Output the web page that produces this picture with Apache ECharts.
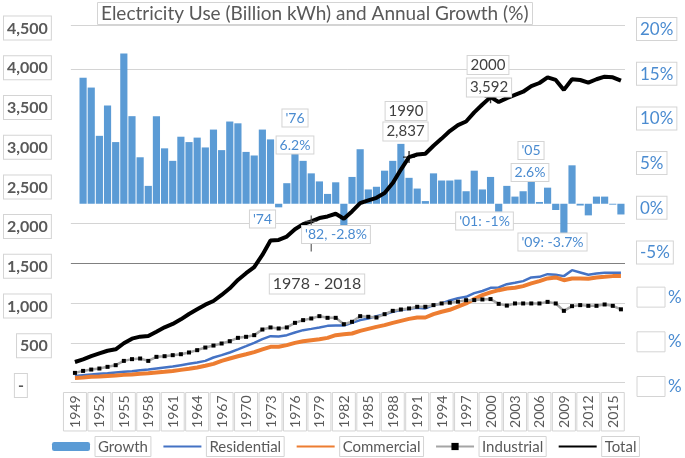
<!DOCTYPE html>
<html>
<head>
<meta charset="utf-8">
<script src="https://cdn.jsdelivr.net/npm/echarts@6/dist/echarts.min.js"></script>
<style>
html,body{margin:0;padding:0;background:#fff;}
#chart{width:685px;height:458px;}
</style>
</head>
<body>
<div id="chart"></div>
<script>
const years = ['1949','1950','1951','1952','1953','1954','1955','1956','1957','1958',
 '1959','1960','1961','1962','1963','1964','1965','1966','1967','1968',
 '1969','1970','1971','1972','1973','1974','1975','1976','1977','1978',
 '1979','1980','1981','1982','1983','1984','1985','1986','1987','1988',
 '1989','1990','1991','1992','1993','1994','1995','1996','1997','1998',
 '1999','2000','2001','2002','2003','2004','2005','2006','2007','2008',
 '2009','2010','2011','2012','2013','2014','2015','2016'];

// Annual growth of total use (%), right axis
const growth = [null,14.1,13.0,7.6,11.0,6.9,16.8,9.8,5.2,2.0,
 9.8,6.2,4.8,7.5,6.9,7.4,6.3,8.3,6.0,9.2,
 9.0,5.8,5.4,8.3,7.2,-0.4,2.3,6.0,4.8,3.4,
 2.5,1.1,2.4,-2.9,3.0,6.1,1.6,1.9,3.7,4.8,
 6.7,2.9,1.7,0.3,3.4,2.6,2.6,2.7,1.4,3.7,
 1.6,3.0,-0.9,2.0,0.8,1.4,2.5,0.2,1.8,-0.7,
 -3.7,4.3,-0.2,-1.3,0.8,0.8,-0.1,-1.2];

// Billion kWh, left axis
const residential = [83,92,101,109,117,126,134,142,155,163,
 176,189,201,218,235,251,272,315,344,378,
 416,457,499,545,583,580,596,630,659,675,
 692,713,718,718,751,785,806,835,860,890,
 911,928,940,932,974,995,1033,1062,1078,1125,
 1152,1192,1196,1238,1255,1276,1322,1330,1364,1356,
 1339,1414,1385,1356,1373,1381,1381,1380];

const commercial = [58,63,71,76,83,88,96,101,109,117,
 126,134,146,159,172,189,210,235,272,302,
 331,356,382,416,449,449,470,499,520,533,
 545,562,596,608,617,650,675,700,722,751,
 776,801,818,818,860,890,915,955,995,1050,
 1100,1135,1162,1184,1192,1213,1247,1276,1310,1322,
 1288,1310,1310,1305,1322,1330,1339,1339];

const industrial = [121,146,163,176,197,218,272,294,302,272,
 323,331,344,356,378,407,440,465,491,520,
 562,575,596,667,693,680,693,751,785,806,
 835,814,814,734,764,835,827,818,860,902,
 919,932,953,953,974,995,1005,1018,1036,1037,
 1045,1050,990,968,995,995,995,995,1015,995,
 902,961,974,965,965,982,965,921];

const total = [258,292,333,367,400,418,494,552,577,586,
 640,695,737,795,862,921,980,1026,1102,1186,
 1291,1376,1451,1606,1786,1795,1837,1930,1993,2028,
 2070,2090,2124,2061,2153,2258,2292,2325,2384,2510,
 2680,2837,2870,2880,2980,3070,3165,3240,3285,3400,
 3500,3592,3530,3580,3620,3660,3730,3770,3842,3808,
 3683,3817,3808,3775,3817,3850,3842,3800];

const seriesNames = ['Growth','Residential','Commercial','Industrial','Total'];
const markedYears = ['1978','1990','2000'];
const titleText = 'Electricity Use (Billion kWh) and Annual Growth (%)';

const FONT = 'Lato, "Noto Sans", sans-serif';
const GRAY = '#595959';
const DARK = '#404040';
const BLUE_TXT = '#4a8bd0';
const BOX = '#d4d4d4';
const T = 'rgba(0,0,0,0)';

const crossPath = 'path://M-0.7,-6L0.7,-6L0.7,-0.7L6,-0.7L6,0.7L0.7,0.7L0.7,6L-0.7,6L-0.7,0.7L-6,0.7L-6,-0.7L-0.7,-0.7Z';
const longCrossPath = 'path://M-0.7,-6L0.7,-6L0.7,-0.7L6,-0.7L6,0.7L0.7,0.7L0.7,30L-0.7,30L-0.7,0.7L-6,0.7L-6,-0.7L-0.7,-0.7Z';

const crosses = markedYears.map((y, k) => {
  const i = years.indexOf(y);
  return k === 0
    ? {value: [y, total[i]], symbol: longCrossPath, symbolSize: [12, 36], symbolOffset: [0, 12], itemStyle: {color: '#555'}}
    : {value: [y, total[i]], symbol: crossPath, symbolSize: 12};
});

const notes = [
  {text: "'74", x: 262.5, y: 219, c: BLUE_TXT, s: 14},
  {text: "'76", x: 295, y: 118, c: BLUE_TXT, s: 14},
  {text: "6.2%", x: 295, y: 145, c: BLUE_TXT, s: 14},
  {text: "'82, -2.8%", x: 336, y: 234.5, c: BLUE_TXT, s: 14},
  {text: "1990", x: 406, y: 111, c: DARK, s: 15},
  {text: "2,837", x: 405.5, y: 131.5, c: DARK, s: 15},
  {text: "2000", x: 488, y: 65, c: DARK, s: 15},
  {text: "3,592", x: 489, y: 87.5, c: DARK, s: 15},
  {text: "'05", x: 531, y: 150.5, c: BLUE_TXT, s: 14},
  {text: "2.6%", x: 530, y: 172.5, c: BLUE_TXT, s: 14},
  {text: "'01: -1%", x: 484.5, y: 221, c: BLUE_TXT, s: 14},
  {text: "'09: -3.7%", x: 552.5, y: 242, c: BLUE_TXT, s: 14},
  {text: "1978 - 2018", x: 317, y: 284, c: DARK, s: 16}
];

const chart = echarts.init(document.getElementById('chart'), null, {renderer: 'canvas'});

const lineLegend = name => ({name: name, itemStyle: {opacity: 0}});

const option = {
  animation: false,
  backgroundColor: '#fff',
  title: {
    text: titleText, left: 97, top: 2,
    padding: [2, 4, 2, 4], borderColor: BOX, borderWidth: 1, backgroundColor: '#fff',
    textStyle: {fontFamily: FONT, fontSize: 19, fontWeight: 'normal', color: GRAY}
  },
  grid: {left: 69, right: 60, top: 25, bottom: 75.5, containLabel: false},
  legend: {
    data: [
      {name: 'Growth'},
      lineLegend('Residential'),
      lineLegend('Commercial'),
      {name: 'Industrial', itemStyle: {opacity: 1}},
      lineLegend('Total')
    ],
    left: 47, top: 431, itemWidth: 38, itemHeight: 9, itemGap: 11,
    formatter: name => '{b|' + name + '}',
    textStyle: {
      fontFamily: FONT, fontSize: 15, color: GRAY,
      rich: {b: {fontFamily: FONT, fontSize: 15, color: GRAY, borderColor: BOX, borderWidth: 1, padding: [3, 3, 2, 3]}}
    }
  },
  xAxis: {
    type: 'category', data: years, boundaryGap: true,
    axisLine: {show: false}, axisTick: {show: false},
    axisLabel: {
      interval: 2, rotate: 90, margin: 10,
      formatter: v => '{b|' + v + '}',
      rich: {b: {fontFamily: FONT, fontSize: 14, color: GRAY, padding: [5, 3, 4, 3], borderColor: BOX, borderWidth: 1}}
    }
  },
  yAxis: [
    {
      type: 'value', min: 0, max: 4500, interval: 500, position: 'left',
      axisLine: {show: false}, axisTick: {show: false},
      splitLine: {show: true, lineStyle: {color: [BOX, BOX, BOX, '#808080', BOX, T, T, T, T, T], width: 1}},
      axisLabel: {
        margin: 20, padding: [6, 0, 0, 0],
        formatter: v => v === 0 ? '{b|-}{s|}' : '{b|' + v.toLocaleString('en-US') + '}',
        rich: {
          b: {fontFamily: FONT, fontSize: 16, fontWeight: 'bold', color: GRAY, padding: [4, 3, 3, 3], borderColor: BOX, borderWidth: 1, backgroundColor: '#fff'},
          s: {width: 24}
        }
      }
    },
    {
      type: 'value', min: -20, max: 20, interval: 5, position: 'right',
      axisLine: {show: false}, axisTick: {show: false},
      splitLine: {show: true, lineStyle: {color: [T, T, T, T, T, T, T, BOX, BOX], width: 1}},
      axisLabel: {
        margin: 12, padding: [8, 0, 0, 0],
        formatter: v => v < -5 ? '{e|}{p|%}' : '{b|' + v + '%}',
        rich: {
          b: {fontFamily: FONT, fontSize: 17, color: BLUE_TXT, padding: [3, 3, 2, 3], borderColor: BOX, borderWidth: 1, backgroundColor: '#fff'},
          e: {width: 28, height: 20, borderColor: BOX, borderWidth: 1},
          p: {fontFamily: FONT, fontSize: 17, color: BLUE_TXT, padding: [0, 0, 0, 3]}
        }
      }
    }
  ],
  series: [
    {name: 'Growth', type: 'bar', yAxisIndex: 1, data: growth, barWidth: '88%', itemStyle: {color: '#5b9bd5'}, z: 2},
    {name: 'Residential', type: 'line', data: residential, symbol: 'none', lineStyle: {color: '#4472c4', width: 2.5}, itemStyle: {color: '#4472c4'}, z: 3},
    {name: 'Commercial', type: 'line', data: commercial, symbol: 'none', lineStyle: {color: '#ed7d31', width: 4}, itemStyle: {color: '#ed7d31'}, z: 3},
    {name: 'Industrial', type: 'line', data: industrial, symbol: 'rect', symbolSize: 4, showSymbol: true, showAllSymbol: true,
     lineStyle: {color: '#a5a5a5', width: 2.5}, itemStyle: {color: '#000'}, z: 4},
    {name: 'Total', type: 'line', data: total, symbol: 'none', lineStyle: {color: '#000', width: 4}, itemStyle: {color: '#000'}, z: 5},
    {type: 'scatter', data: crosses, itemStyle: {color: '#000'}, z: 6, silent: true}
  ],
  graphic: notes.map(n => ({
    type: 'text', x: n.x, y: n.y, z: 100,
    style: {
      text: n.text, fill: n.c, font: n.s + 'px ' + FONT,
      align: 'center', verticalAlign: 'middle', textAlign: 'center', textVerticalAlign: 'middle',
      backgroundColor: '#fff', borderColor: BOX, borderWidth: 1, padding: [2, 3, 1, 3]
    }
  }))
};

chart.setOption(option);
</script>
</body>
</html>
